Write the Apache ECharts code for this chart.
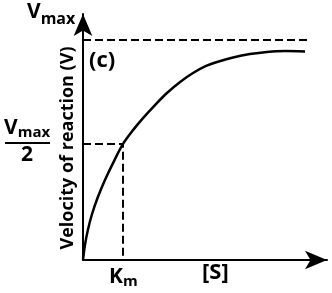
<!DOCTYPE html>
<html><head><meta charset="utf-8">
<script src="https://cdn.jsdelivr.net/npm/echarts@6/dist/echarts.min.js"></script>
<style>html,body{margin:0;padding:0;background:#fff}#c{width:332px;height:293px}</style>
</head><body><div id="c"></div>
<script>
// Michaelis–Menten curve: [S] vs velocity
var curveS = [0, 0.08, 0.20, 0.37, 0.61, 0.90, 1.23, 1.64, 2.05, 2.46, 2.95, 3.44, 3.98, 4.51, 5.00, 5.53, 6.15, 6.84, 7.54, 8.28, 9.10];
var curveV = [0, 0.61, 1.22, 1.87, 2.56, 3.25, 3.94, 4.72, 5.28, 5.77, 6.30, 6.79, 7.24, 7.60, 7.87, 8.06, 8.23, 8.37, 8.46, 8.50, 8.48];
var vmax = 8.94;
var vmaxEnd = 9.18;
var km = 1.64;
var halfV = 4.72;

var curve = curveS.map(function (s, i) { return [s, curveV[i]]; });
var dash = [8, 4];
var F = '"Open Sans", "DejaVu Sans", sans-serif';

var chart = echarts.init(document.getElementById('c'), null, {renderer: 'canvas'});
chart.setOption({
  animation: false,
  grid: {left: 83, right: 5, top: 14, bottom: 33},
  xAxis: {
    type: 'value', min: 0, max: 10,
    axisLine: {show: true, lineStyle: {color: '#000', width: 2}, symbol: ['none', 'arrow'], symbolSize: [14, 22]},
    axisTick: {show: false}, axisLabel: {show: false}, splitLine: {show: false}
  },
  yAxis: {
    type: 'value', min: 0, max: 10,
    axisLine: {show: true, lineStyle: {color: '#000', width: 2}, symbol: ['none', 'arrow'], symbolSize: [14, 22]},
    axisTick: {show: false}, axisLabel: {show: false}, splitLine: {show: false}
  },
  series: [
    {type: 'line', data: curve, smooth: 0.3, showSymbol: false, lineStyle: {color: '#000', width: 2.5}, z: 3},
    {type: 'line', data: [[0, vmax], [vmaxEnd, vmax]], showSymbol: false, lineStyle: {color: '#000', width: 2, type: dash}},
    {type: 'line', data: [[0, halfV], [km, halfV], [km, 0]], showSymbol: false, lineStyle: {color: '#000', width: 2, type: dash}}
  ],
  graphic: [
    {type: 'text', x: 68, y: 148, rotation: Math.PI / 2, style: {text: 'Velocity of reaction (V)', font: 'bold 18px ' + F, fill: '#000', align: 'center', verticalAlign: 'middle'}},
    {type: 'text', left: 27, top: 2, style: {text: '{v|V}{s|max}', rich: {v: {fontFamily: F, fontWeight: 'bold', fontSize: 21, fill: '#000', verticalAlign: 'bottom'}, s: {fontFamily: F, fontWeight: 'bold', fontSize: 16, fill: '#000', verticalAlign: 'bottom', padding: [0, 0, -4, 0]}}}},
    {type: 'text', left: 4, top: 118, style: {text: '{v|V}{s|max}', rich: {v: {fontFamily: F, fontWeight: 'bold', fontSize: 21, fill: '#000'}, s: {fontFamily: F, fontWeight: 'bold', fontSize: 15, fill: '#000', padding: [8, 0, 0, 0]}}}},
    {type: 'line', shape: {x1: 5, y1: 143, x2: 50, y2: 143}, style: {stroke: '#000', lineWidth: 2}},
    {type: 'text', left: 21, top: 145, style: {text: '2', font: 'bold 21px ' + F, fill: '#000'}},
    {type: 'text', left: 89, top: 50, style: {text: '(c)', font: 'bold 22px ' + F, fill: '#000'}},
    {type: 'text', left: 109, top: 267, style: {text: '{v|K}{s|m}', rich: {v: {fontFamily: F, fontWeight: 'bold', fontSize: 21, fill: '#000'}, s: {fontFamily: F, fontWeight: 'bold', fontSize: 15, fill: '#000', padding: [9, 0, 0, 0]}}}},
    {type: 'text', left: 202, top: 262, style: {text: '[S]', font: 'bold 22px ' + F, fill: '#000'}}
  ]
});
</script></body></html>
